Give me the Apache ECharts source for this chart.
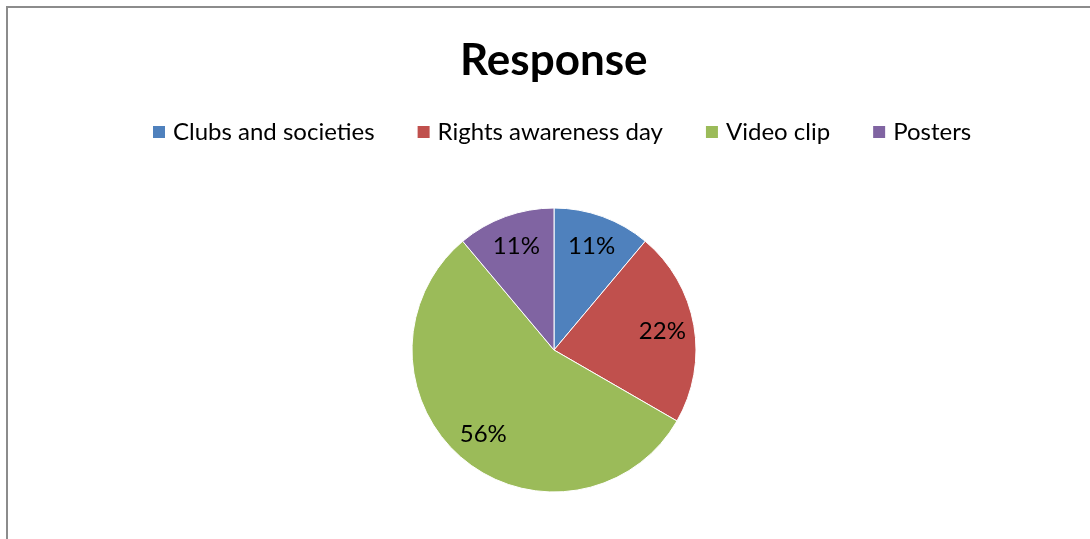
<!DOCTYPE html>
<html>
<head>
<meta charset="utf-8">
<script src="https://cdn.jsdelivr.net/npm/echarts@6/dist/echarts.min.js"></script>
<style>
  html, body { margin: 0; padding: 0; background: #fff; }
  #main { width: 1090px; height: 539px; }
</style>
</head>
<body>
<div id="main"></div>
<script>
// responses per channel (share shown as percent)
const categories = ['Clubs and societies', 'Rights awareness day', 'Video clip', 'Posters']
const counts = [1, 2, 5, 1]
const colors = ['#4F81BD', '#C0504D', '#9BBB59', '#8064A2']

let myChart = echarts.init(document.getElementById('main'))

let pieData = categories.map((name, i) => {
    return { name: name, value: counts[i], itemStyle: { color: colors[i] } }
})

const font = 'Lato'

myChart.setOption({
    animation: false,
    title: {
        text: 'Response',
        left: 455,
        top: 34,
        textStyle: { fontFamily: font, fontWeight: 'bold', fontSize: 44, color: '#000' }
    },
    legend: {
        top: 115,
        left: 146,
        data: categories,
        itemWidth: 14,
        itemHeight: 14,
        itemGap: 41,
        icon: 'rect',
        textStyle: { fontFamily: font, fontSize: 24, color: '#000', padding: [0, 0, 0, 2] }
    },
    graphic: [{
        type: 'polyline',
        shape: { points: [[7, 545], [7, 7], [1100, 7]] },
        style: { stroke: '#8c8c8c', lineWidth: 2, fill: null },
        silent: true
    }],
    series: [
        {
            type: 'pie',
            center: [554, 350],
            radius: [0, 142],
            startAngle: 90,
            clockwise: true,
            data: pieData,
            label: { show: false },
            labelLine: { show: false },
            itemStyle: { borderColor: '#fff', borderWidth: 1 },
            emphasis: { disabled: true }
        },
        {
            // label ring so percents sit at ~3/4 of the radius
            type: 'pie',
            center: [554, 350],
            radius: [72, 142],
            startAngle: 90,
            clockwise: true,
            silent: true,
            data: pieData.map(d => ({ name: d.name, value: d.value, itemStyle: { color: 'rgba(0,0,0,0)' } })),
            label: {
                show: true,
                position: 'inside',
                fontFamily: font,
                fontSize: 24,
                color: '#000',
                formatter: p => Math.round(p.percent) + '%'
            },
            labelLine: { show: false },
            emphasis: { disabled: true }
        }
    ]
})
</script>
</body>
</html>
